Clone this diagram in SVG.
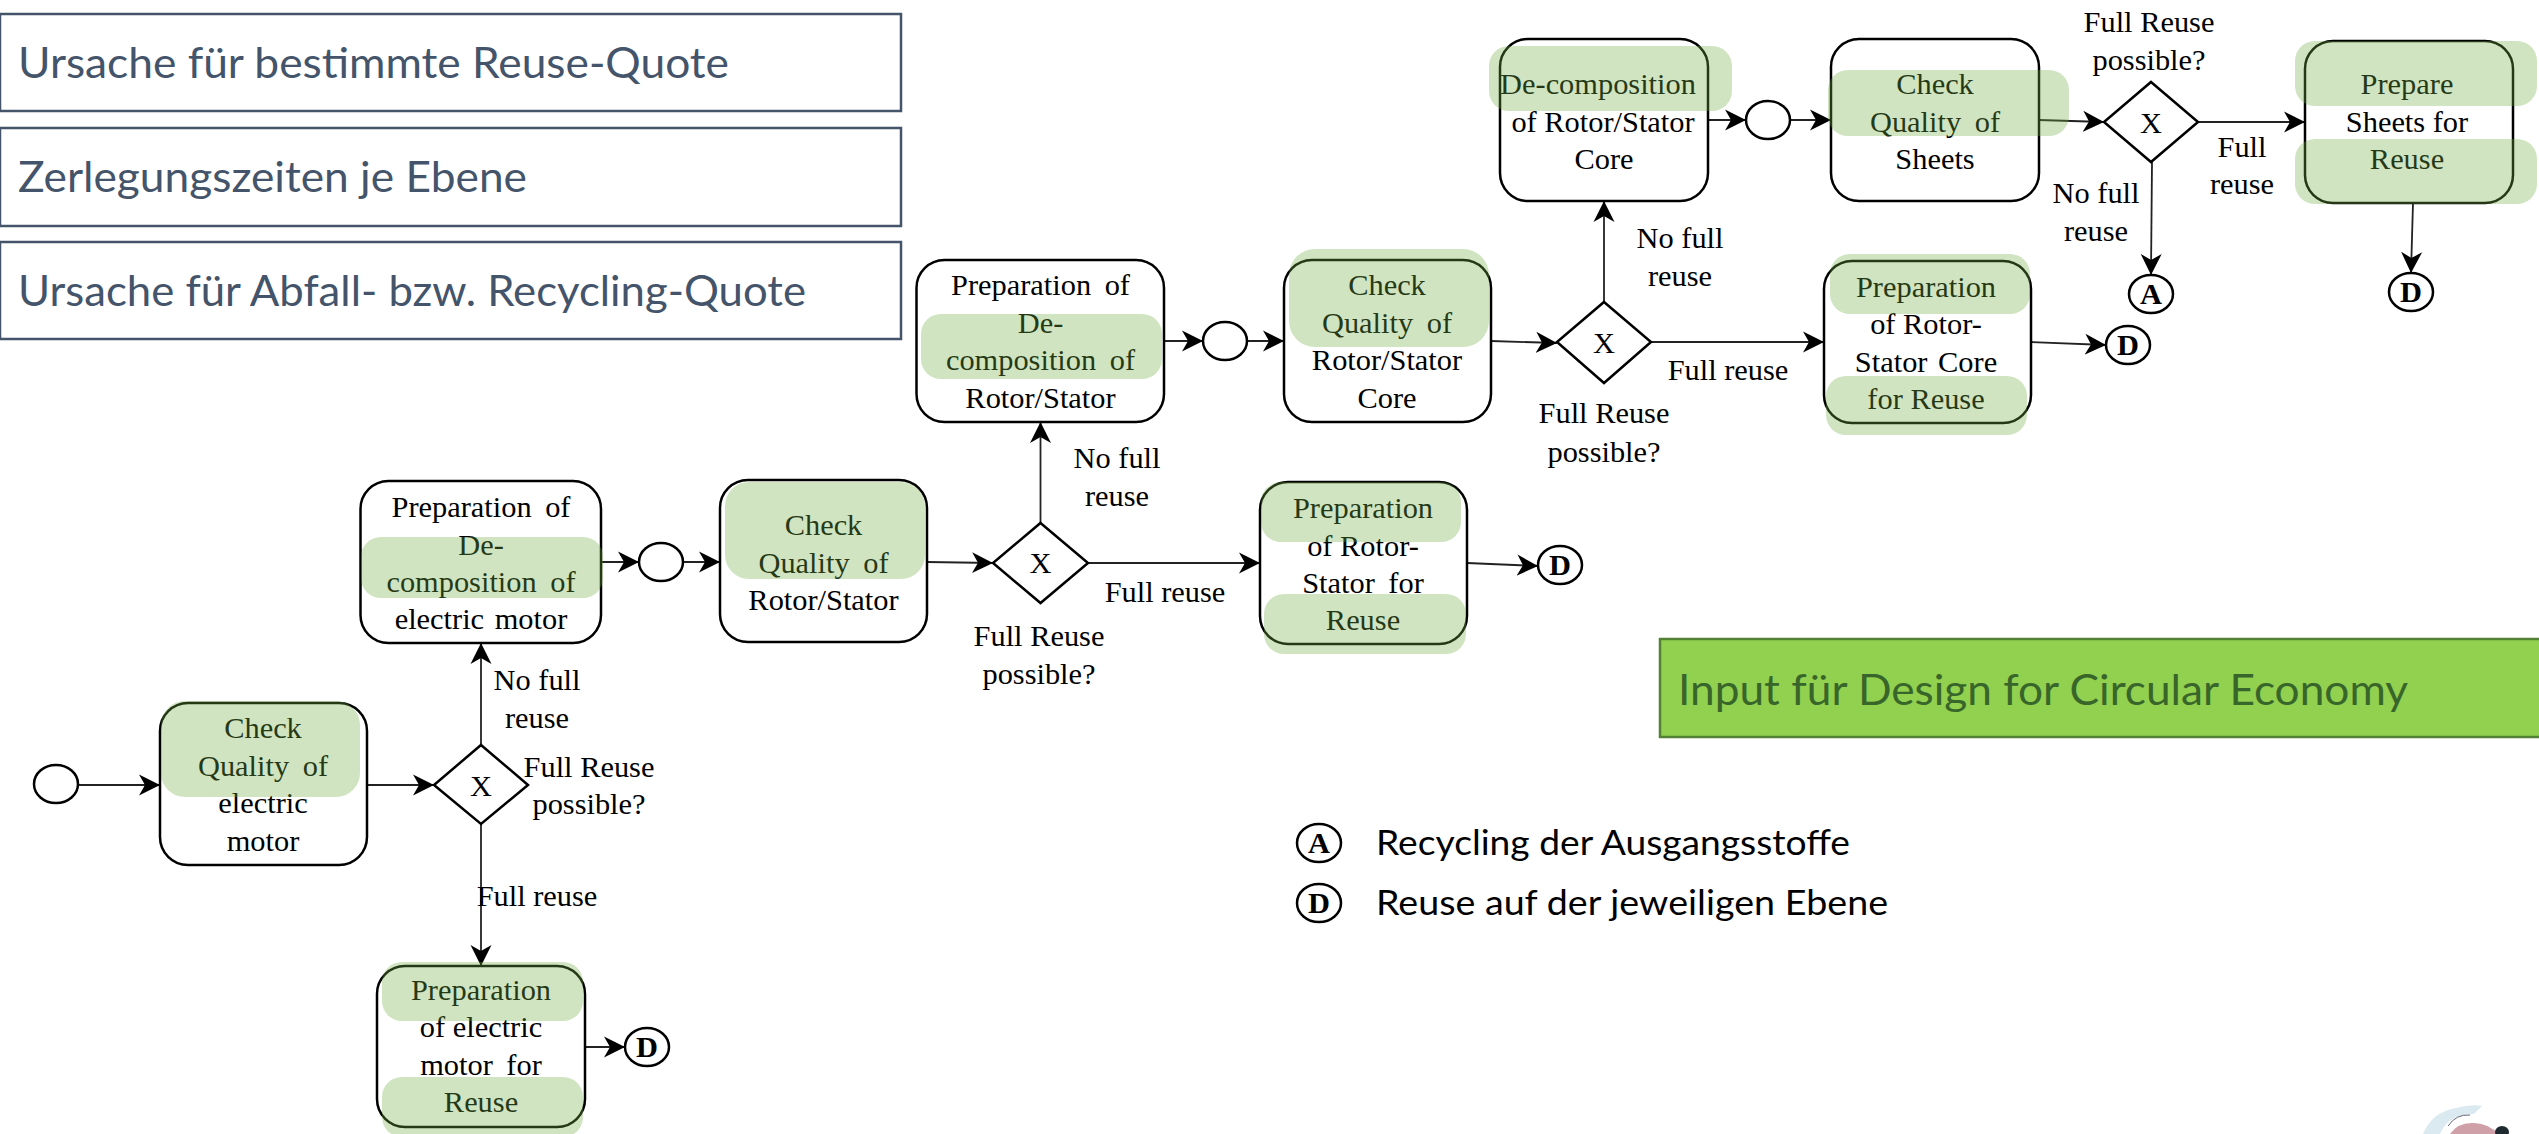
<svg xmlns="http://www.w3.org/2000/svg" width="2539" height="1134" viewBox="0 0 2539 1134">
<style>
text{font-family:"Liberation Serif","Times New Roman",serif;font-size:30.400px;fill:#000;text-anchor:middle}
.w{word-spacing:6px}
.b{font-weight:bold}
.task{fill:#fff;stroke:#000;stroke-width:2.5}
.ev{fill:#fff;stroke:#000;stroke-width:2.5}
.gw{fill:#fff;stroke:#000;stroke-width:2.5}
.hl{fill:#70ad47;fill-opacity:.33}
.con{fill:none;stroke:#222;stroke-width:1.8;marker-end:url(#arr)}
.box{fill:#fff;stroke:#44546a;stroke-width:2.5}
.sans{font-family:Lato,"Open Sans",sans-serif;text-anchor:start}
.t1{font-size:42px;fill:#44546a}
.t2{font-size:42px;fill:#38662a}
.t3{font-size:35px;fill:#000}
</style>
<defs>
<marker id="arr" markerUnits="userSpaceOnUse" markerWidth="24" markerHeight="24" viewBox="0 -12 24 24" refX="21" refY="0" orient="auto">
<path d="M0,-10.5L21,0L0,10.5L6,0Z" fill="#000"/>
</marker>
</defs>
<g id="connectors">
<path class="con" d="M78,785L160,785"/>
<path class="con" d="M367,785L434,785"/>
<path class="con" d="M481,745L481,643"/>
<path class="con" d="M481,824L481,966"/>
<path class="con" d="M585,1047L625,1047"/>
<path class="con" d="M601,562L639,562"/>
<path class="con" d="M683,562L720,562"/>
<path class="con" d="M927,562L993,563"/>
<path class="con" d="M1040.5,523L1040.5,422"/>
<path class="con" d="M1088,563L1260,563"/>
<path class="con" d="M1467,563L1538,566"/>
<path class="con" d="M1164,341L1203,341"/>
<path class="con" d="M1247,341L1284,341"/>
<path class="con" d="M1491,341L1557,343"/>
<path class="con" d="M1604,302L1604,201"/>
<path class="con" d="M1651,342L1824,342"/>
<path class="con" d="M2031,342L2106,345"/>
<path class="con" d="M1708,120L1746,120"/>
<path class="con" d="M1790,120L1831,120"/>
<path class="con" d="M2039,120L2104,122"/>
<path class="con" d="M2198,122L2305,122"/>
<path class="con" d="M2152,162L2151,275"/>
<path class="con" d="M2413,203L2411,273"/>
</g>
<g id="start"><ellipse class="ev" cx="56" cy="784" rx="22" ry="19"/></g>
<g id="check-motor">
<rect class="task" x="160" y="703" width="207" height="162" rx="28"/>
<text x="263" y="738">Check</text><text class="w" x="263" y="776">Quality of</text><text x="263" y="813">electric</text><text x="263" y="851">motor</text>
<rect class="hl" x="161" y="701" width="199" height="96" rx="24"/>
</g>
<g id="gw1">
<path class="gw" d="M481,745L528,785L481,824L434,785Z"/><text x="481" y="796">X</text>
</g>
<g id="lbl1">
<text x="537" y="690">No full</text><text x="537" y="728">reuse</text>
<text x="589" y="777">Full Reuse</text><text x="589" y="814">possible?</text>
<text x="537" y="906">Full reuse</text>
</g>
<g id="prep-motor">
<rect class="task" x="377" y="966" width="208" height="161" rx="28"/>
<text x="481" y="1000">Preparation</text><text x="481" y="1037">of electric</text><text class="w" x="481" y="1075">motor for</text><text x="481" y="1112">Reuse</text>
<rect class="hl" x="382" y="962" width="201" height="59" rx="20"/>
<rect class="hl" x="382" y="1077" width="201" height="60" rx="20"/>
</g>
<g id="end-d1"><ellipse class="ev" cx="647" cy="1047" rx="22" ry="19"/><text class="b" x="647" y="1057">D</text></g>
<g id="prep-decomp-motor">
<rect class="task" x="360.500" y="481" width="240.500" height="162" rx="28"/>
<text class="w" x="481" y="517">Preparation of</text><text x="481" y="555">De-</text><text class="w" x="481" y="592">composition of</text><text x="481" y="629" style="word-spacing:3px">electric motor</text>
<rect class="hl" x="361" y="537" width="242" height="61" rx="20"/>
</g>
<g id="ev2"><ellipse class="ev" cx="661" cy="562" rx="22" ry="19"/></g>
<g id="check-rs">
<rect class="task" x="720" y="480" width="207" height="162" rx="28"/>
<text x="823.500" y="535">Check</text><text class="w" x="823.500" y="573">Quality of</text><text x="823.500" y="610">Rotor/Stator</text>
<rect class="hl" x="725" y="482" width="200" height="97" rx="24"/>
</g>
<g id="gw2">
<path class="gw" d="M1040.500,523L1088,563L1040.500,603L993,563Z"/><text x="1040.500" y="573">X</text>
</g>
<g id="lbl2">
<text x="1117" y="468">No full</text><text x="1117" y="506">reuse</text>
<text x="1165" y="602">Full reuse</text>
<text x="1039" y="646">Full Reuse</text><text x="1039" y="684">possible?</text>
</g>
<g id="prep-rs">
<rect class="task" x="1260" y="482" width="207" height="162" rx="28"/>
<text x="1363" y="518">Preparation</text><text x="1363" y="556">of Rotor-</text><text class="w" x="1363" y="593">Stator for</text><text x="1363" y="630">Reuse</text>
<rect class="hl" x="1261" y="482" width="200" height="60" rx="20"/>
<rect class="hl" x="1264" y="594" width="202" height="60" rx="20"/>
</g>
<g id="end-d2"><ellipse class="ev" cx="1560" cy="565" rx="22" ry="19"/><text class="b" x="1560" y="575">D</text></g>
<g id="prep-decomp-rs">
<rect class="task" x="916.500" y="260" width="247.500" height="162" rx="28"/>
<text class="w" x="1040.500" y="295">Preparation of</text><text x="1040.500" y="333">De-</text><text class="w" x="1040.500" y="370">composition of</text><text x="1040.500" y="408">Rotor/Stator</text>
<rect class="hl" x="921" y="314" width="241" height="65" rx="20"/>
</g>
<g id="ev3"><ellipse class="ev" cx="1225" cy="341" rx="22" ry="19"/></g>
<g id="check-core">
<rect class="task" x="1284" y="260" width="207" height="162" rx="28"/>
<text x="1387" y="295">Check</text><text class="w" x="1387" y="333">Quality of</text><text x="1387" y="370">Rotor/Stator</text><text x="1387" y="408">Core</text>
<rect class="hl" x="1289" y="249" width="200" height="98" rx="26"/>
</g>
<g id="gw3">
<path class="gw" d="M1604,302L1651,342L1604,383L1557,342Z"/><text x="1604" y="353">X</text>
</g>
<g id="lbl3">
<text x="1680" y="248">No full</text><text x="1680" y="286">reuse</text>
<text x="1728" y="380">Full reuse</text>
<text x="1604" y="423">Full Reuse</text><text x="1604" y="462">possible?</text>
</g>
<g id="prep-core">
<rect class="task" x="1824" y="261" width="207" height="162" rx="28"/>
<text x="1926" y="297">Preparation</text><text x="1926" y="334">of Rotor-</text><text x="1926" y="372" style="word-spacing:3px">Stator Core</text><text x="1926" y="409">for Reuse</text>
<rect class="hl" x="1830" y="254" width="200" height="60" rx="20"/>
<rect class="hl" x="1826" y="376" width="201" height="59" rx="20"/>
</g>
<g id="end-d3"><ellipse class="ev" cx="2128" cy="345" rx="22" ry="19"/><text class="b" x="2128" y="355">D</text></g>
<g id="decomp-core">
<rect class="task" x="1500" y="39" width="208" height="162" rx="28"/>
<text x="1598" y="94">De-composition</text><text x="1603" y="132">of Rotor/Stator</text><text x="1604" y="169">Core</text>
<rect class="hl" x="1489" y="46" width="243" height="65" rx="20"/>
</g>
<g id="ev4"><ellipse class="ev" cx="1768" cy="120" rx="22" ry="19"/></g>
<g id="check-sheets">
<rect class="task" x="1831" y="39" width="208" height="162" rx="28"/>
<text x="1935" y="94">Check</text><text class="w" x="1935" y="132">Quality of</text><text x="1935" y="169">Sheets</text>
<rect class="hl" x="1828" y="70" width="241" height="66" rx="20"/>
</g>
<g id="gw4">
<path class="gw" d="M2151,82L2198,122L2151,162L2104,122Z"/><text x="2151" y="133">X</text>
</g>
<g id="lbl4">
<text x="2149" y="32">Full Reuse</text><text x="2149" y="70">possible?</text>
<text x="2096" y="203">No full</text><text x="2096" y="241">reuse</text>
<text x="2242" y="157">Full</text><text x="2242" y="194">reuse</text>
</g>
<g id="prep-sheets">
<rect class="task" x="2305" y="41" width="208" height="162" rx="28"/>
<text x="2407" y="94">Prepare</text><text x="2407" y="132">Sheets for</text><text x="2407" y="169">Reuse</text>
<rect class="hl" x="2295" y="41" width="242" height="65" rx="20"/>
<rect class="hl" x="2295" y="139" width="242" height="65" rx="20"/>
</g>
<g id="end-a"><ellipse class="ev" cx="2151" cy="294" rx="22" ry="19"/><text class="b" x="2151" y="304">A</text></g>
<g id="end-d4"><ellipse class="ev" cx="2411" cy="292" rx="22" ry="19"/><text class="b" x="2411" y="302">D</text></g>
<g id="note1"><rect class="box" x="0" y="14" width="901" height="97"/><text class="sans t1" x="18" y="78" textLength="711" lengthAdjust="spacingAndGlyphs">Ursache für bestimmte Reuse-Quote</text></g>
<g id="note2"><rect class="box" x="0" y="128" width="901" height="98"/><text class="sans t1" x="18" y="192" textLength="509" lengthAdjust="spacingAndGlyphs">Zerlegungszeiten je Ebene</text></g>
<g id="note3"><rect class="box" x="0" y="242" width="901" height="97"/><text class="sans t1" x="18" y="306" textLength="788" lengthAdjust="spacingAndGlyphs">Ursache für Abfall- bzw. Recycling-Quote</text></g>
<g id="note4"><rect x="1660" y="639" width="885" height="98" fill="#92d050" stroke="#548235" stroke-width="2.500"/><text class="sans t2" x="1678" y="705" textLength="730" lengthAdjust="spacingAndGlyphs">Input für Design for Circular Economy</text></g>
<g id="legend-a"><ellipse class="ev" cx="1319" cy="843" rx="22" ry="19"/><text class="b" x="1319" y="853">A</text><text class="sans t3" x="1376" y="855" textLength="474" lengthAdjust="spacingAndGlyphs">Recycling der Ausgangsstoffe</text></g>
<g id="legend-d"><ellipse class="ev" cx="1319" cy="903" rx="22" ry="19"/><text class="b" x="1319" y="913">D</text><text class="sans t3" x="1376" y="915" textLength="512" lengthAdjust="spacingAndGlyphs">Reuse auf der jeweiligen Ebene</text></g>
<g id="logo">
<path d="M2423,1134Q2432,1112 2456,1108Q2472,1104 2482,1106L2474,1114Q2448,1114 2440,1134Z" fill="#dbe9f0"/>
<path d="M2450,1134Q2458,1122 2474,1123Q2490,1124 2498,1134Z" fill="#d0a0a8"/>
<path d="M2448,1126Q2456,1114 2470,1115" fill="none" stroke="#667" stroke-width="1"/>
<ellipse cx="2502" cy="1132" rx="7" ry="6" fill="#1f2a30"/>
</g>
</svg>
